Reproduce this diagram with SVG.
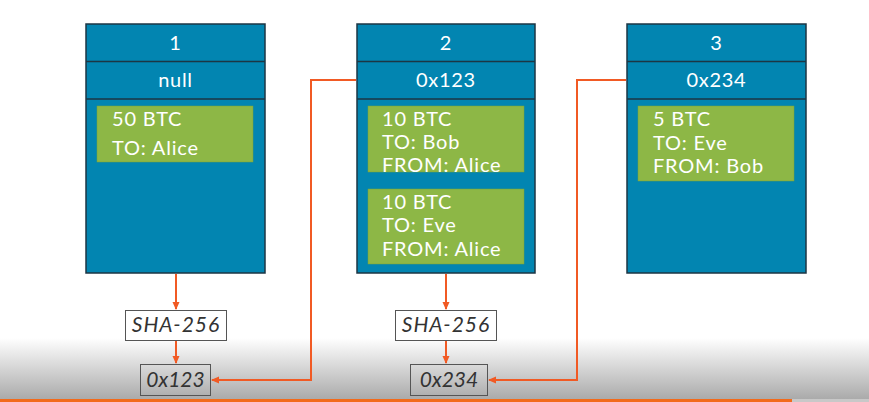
<svg xmlns="http://www.w3.org/2000/svg" width="869" height="402" viewBox="0 0 869 402">
<defs>
<linearGradient id="bg" x1="0" y1="0" x2="0" y2="1">
<stop offset="0" stop-color="#ffffff"/>
<stop offset="1" stop-color="#a9a9a9"/>
</linearGradient>
<marker id="ah" markerWidth="8" markerHeight="8" refX="7" refY="4" orient="auto" markerUnits="userSpaceOnUse">
<path d="M0,0.5 L8,4 L0,7.5 Z" fill="#f15a24"/>
</marker>
<style>
.blk{fill:#0285b1;stroke:#1c3644;stroke-width:1.5}
.div{stroke:#1c3644;stroke-width:1.5}
.grn{fill:#8db746;stroke:#7aa33a;stroke-width:0.5}
.hd{font-family:"Lato","Open Sans",sans-serif;font-size:20px;letter-spacing:0.7px;fill:#ffffff;text-anchor:middle}
.tx{font-family:"Lato","Open Sans",sans-serif;font-size:20px;letter-spacing:0.8px;fill:#ffffff}
.hb{fill:#ffffff;stroke:#555555;stroke-width:1}
.hv{fill:none;stroke:#555555;stroke-width:1}
.it{font-family:"Lato","Open Sans",sans-serif;font-size:21px;font-style:italic;fill:#333333;text-anchor:middle}
.ls{letter-spacing:1px}
.cn{fill:none;stroke:#f15a24;stroke-width:2}
</style>
</defs>
<rect x="0" y="0" width="869" height="402" fill="#ffffff"/>
<rect x="0" y="338" width="869" height="62" fill="url(#bg)"/>
<rect x="0" y="399" width="869" height="3" fill="#c8c8c8"/>
<rect x="0" y="399" width="792" height="3" fill="#f26a1b"/>

<g id="block1">
<rect class="blk" x="86" y="24" width="179" height="249"/>
<line class="div" x1="86" y1="61.5" x2="265" y2="61.5"/>
<line class="div" x1="86" y1="99" x2="265" y2="99"/>
<text class="hd" x="175.5" y="50">1</text>
<text class="hd" x="175.5" y="87">null</text>
<rect class="grn" x="97" y="106" width="156" height="56"/>
<text class="tx" x="112" y="126">50 BTC</text>
<text class="tx" x="112" y="155">TO: Alice</text>
</g>

<g id="block2">
<rect class="blk" x="357" y="24" width="178" height="249"/>
<line class="div" x1="357" y1="61.5" x2="535" y2="61.5"/>
<line class="div" x1="357" y1="99" x2="535" y2="99"/>
<text class="hd" x="446" y="50">2</text>
<text class="hd" x="446" y="87">0x123</text>
<rect class="grn" x="368" y="106" width="156" height="66"/>
<text class="tx" x="382" y="126">10 BTC</text>
<text class="tx" x="382" y="149">TO: Bob</text>
<text class="tx" x="382" y="172">FROM: Alice</text>
<rect class="grn" x="368" y="189" width="156" height="75"/>
<text class="tx" x="382" y="209">10 BTC</text>
<text class="tx" x="382" y="232">TO: Eve</text>
<text class="tx" x="382" y="256">FROM: Alice</text>
</g>

<g id="block3">
<rect class="blk" x="627" y="24" width="179" height="249"/>
<line class="div" x1="627" y1="61.5" x2="806" y2="61.5"/>
<line class="div" x1="627" y1="99" x2="806" y2="99"/>
<text class="hd" x="716.5" y="50">3</text>
<text class="hd" x="716.5" y="87">0x234</text>
<rect class="grn" x="638" y="106" width="156" height="75"/>
<text class="tx" x="653" y="126">5 BTC</text>
<text class="tx" x="653" y="150">TO: Eve</text>
<text class="tx" x="653" y="173">FROM: Bob</text>
</g>

<g id="sha1">
<rect class="hb" x="125.5" y="310.5" width="101" height="30"/>
<text class="it ls" x="176" y="332">SHA-256</text>
</g>
<g id="hash1">
<rect class="hv" x="140.5" y="364.5" width="70" height="31"/>
<text class="it" x="175.5" y="387">0x123</text>
</g>
<g id="sha2">
<rect class="hb" x="395.5" y="310.5" width="101" height="30"/>
<text class="it ls" x="446" y="332">SHA-256</text>
</g>
<g id="hash2">
<rect class="hv" x="410.5" y="364.5" width="77" height="31"/>
<text class="it" x="449" y="387">0x234</text>
</g>

<g id="connectors">
<path class="cn" d="M176,274 V309" marker-end="url(#ah)"/>
<path class="cn" d="M176,341 V363" marker-end="url(#ah)"/>
<path class="cn" d="M446,274 V309" marker-end="url(#ah)"/>
<path class="cn" d="M446,341 V363" marker-end="url(#ah)"/>
<path class="cn" d="M356,80 H311 V380 H212" marker-end="url(#ah)"/>
<path class="cn" d="M626,80 H577 V380 H489" marker-end="url(#ah)"/>
</g>
</svg>
